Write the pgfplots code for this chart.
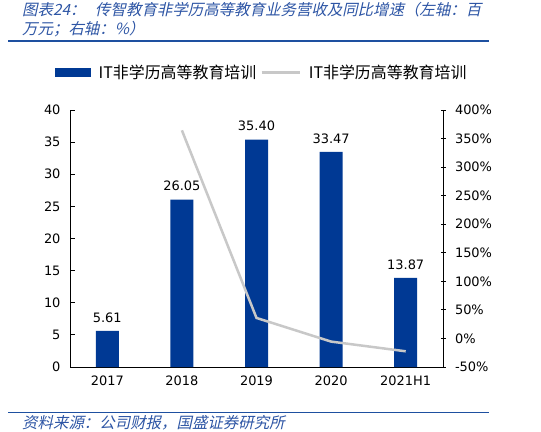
\documentclass[border=0pt]{standalone}
\usepackage{pgfplots}
\pgfplotsset{compat=1.18}
\usepackage{fontspec}
\setmainfont{DejaVu Sans}
\newfontfamily\cjk{Noto Sans CJK SC}
\newfontfamily\cjkit[FakeSlant=0.22]{Noto Sans CJK SC}
\definecolor{barblue}{RGB}{0,57,148}
\definecolor{titleblue}{RGB}{45,85,165}
\definecolor{ruleblue}{RGB}{30,80,160}
\definecolor{linegray}{RGB}{200,200,200}
\begin{document}
\begin{tikzpicture}
\path[use as bounding box, fill=white] (0bp,0bp) rectangle (541bp,-432bp);
% title
\node[anchor=west, text=titleblue, inner sep=0pt] at (22bp,-10bp) {\fontsize{15.5}{17}\selectfont\cjkit 图表24：};
\node[anchor=west, text=titleblue, inner sep=0pt] at (95bp,-10bp) {\fontsize{15.5}{17}\selectfont\cjkit 传智教育非学历高等教育业务营收及同比增速（左轴：百};
\node[anchor=west, text=titleblue, inner sep=0pt] at (22bp,-29bp) {\fontsize{15.5}{17}\selectfont\cjkit 万元；右轴：\%）};
\draw[ruleblue, line width=1.6bp] (8bp,-41bp) -- (489bp,-41bp);
\draw[ruleblue, line width=1.6bp] (8bp,-412.5bp) -- (489bp,-412.5bp);
\node[anchor=west, text=titleblue, inner sep=0pt] at (22bp,-423bp) {\fontsize{15.5}{17}\selectfont\cjkit 资料来源：公司财报，国盛证券研究所};

\begin{axis}[
  at={(70bp,-367bp)}, anchor=south west,
  scale only axis, width=373bp, height=257bp,
  xmin=-0.5, xmax=4.5, ymin=0, ymax=40,
  axis x line*=bottom, axis y line*=left,
  axis line style={black, line width=0.8bp},
  xtick={0,1,2,3,4},
  xticklabels={2017,2018,2019,2020,2021H1},
  extra x ticks={0.5,1.5,2.5,3.5},
  extra x tick labels={},
  extra x tick style={major tick length=4bp, tick align=inside, tick style={black, line width=0.6bp}},
  x tick style={draw=none},
  ytick={0,5,...,40},
  y tick style={black, line width=0.8bp},
  major tick length=5bp,
  tick align=inside,
  tick label style={font=\fontsize{13}{15}\selectfont},
  /pgf/number format/assume math mode=true,
  yticklabel style={xshift=-6bp},
  xticklabel style={yshift=-5bp},
  legend style={at={(0.515,1.145)}, anchor=center, draw=none, fill=none,
    legend columns=2, font=\fontsize{16}{18}\selectfont\cjk,
    /tikz/every even column/.append style={column sep=1bp},
    nodes={inner sep=3bp}},
  clip=false,
]
\addplot[ybar, bar width=23bp, fill=barblue, draw=none,
  nodes near coords, nodes near coords style={font=\fontsize{13}{15}\selectfont, text=black, yshift=5bp, /pgf/number format/.cd, fixed, fixed zerofill, precision=2, assume math mode=true},
  legend image code/.code={\fill[barblue] (0bp,-4.5bp) rectangle (36bp,4.5bp);}]
coordinates {(0,5.61) (1,26.05) (2,35.40) (3,33.47) (4,13.87)};
\addlegendentry{\hspace{5bp}IT非学历高等教育培训}
\addlegendimage{legend image code/.code={\draw[linegray, line width=2.5bp] (0bp,0bp) -- (38bp,0bp);}}
\addlegendentry{\hspace{5bp}IT非学历高等教育培训}
\end{axis}

\begin{axis}[
  at={(70bp,-367bp)}, anchor=south west,
  scale only axis, width=373bp, height=257bp,
  xmin=-0.5, xmax=4.5, ymin=-50, ymax=400,
  axis x line=none, axis y line*=right,
  axis line style={black, line width=0.8bp},
  ytick={-50,0,...,400},
  yticklabel={\pgfmathprintnumber{\tick}\%},
  y tick style={black, line width=0.8bp},
  major tick length=5bp,
  tick align=center,
  tick label style={font=\fontsize{13}{15}\selectfont},
  /pgf/number format/assume math mode=true,
  yticklabel style={xshift=6bp},
]
\addplot[linegray, line width=2.5bp] coordinates {(1,364.4) (2,35.9) (3,-5.5) (4,-22.5)};
\end{axis}
\end{tikzpicture}
\end{document}
